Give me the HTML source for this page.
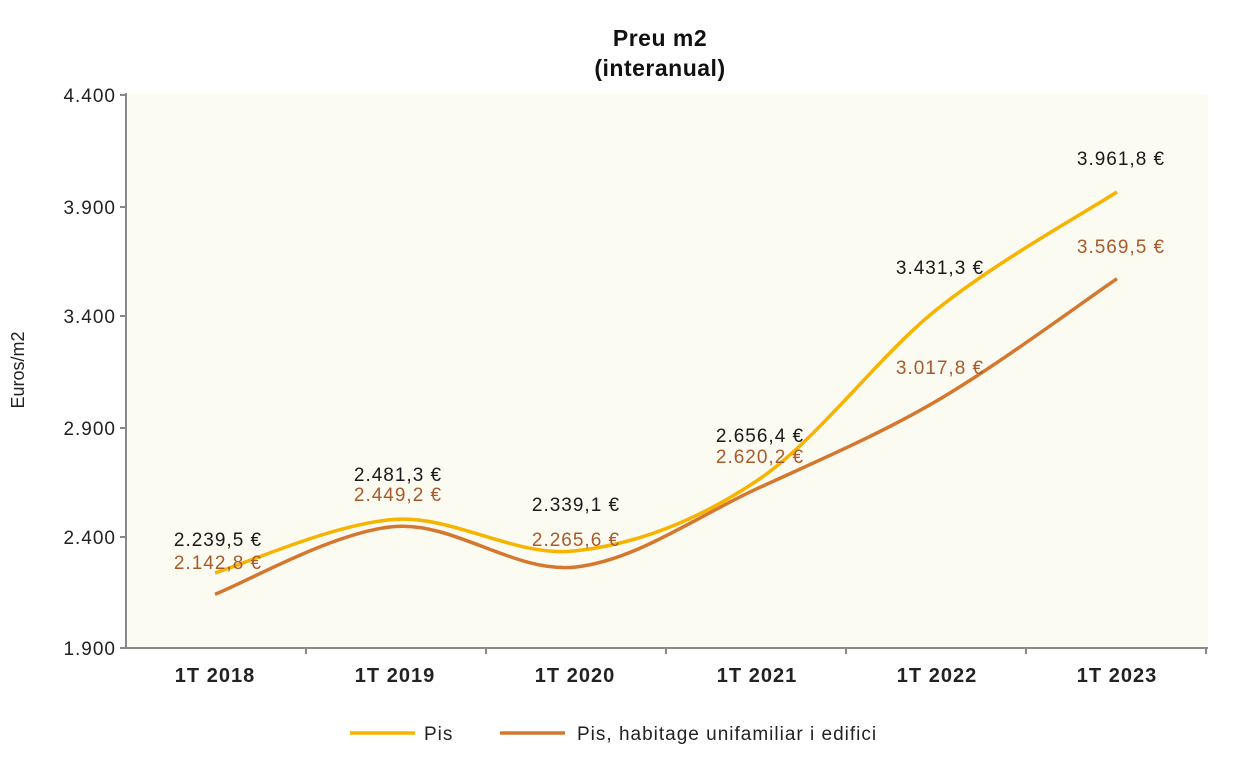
<!DOCTYPE html>
<html><head><meta charset="utf-8"><style>
html,body{margin:0;padding:0;background:#fff;}
svg{display:block;font-family:"Liberation Sans",Arial,sans-serif;}
</style></head><body>
<svg width="1240" height="765" viewBox="0 0 1240 765">
<rect x="128" y="94" width="1080" height="554" fill="#fcfbf1"/>
<text x="660" y="46" font-size="23" font-weight="bold" text-anchor="middle" fill="#111" letter-spacing="0.5">Preu m2</text>
<text x="660" y="76" font-size="23" font-weight="bold" text-anchor="middle" fill="#111" letter-spacing="0.5">(interanual)</text>
<g stroke="#888" stroke-width="2">
<line x1="126" y1="93" x2="126" y2="649"/>
<line x1="126" y1="648" x2="1208" y2="648"/>
<line x1="120" y1="95" x2="126" y2="95"/>
<line x1="120" y1="207" x2="126" y2="207"/>
<line x1="120" y1="316" x2="126" y2="316"/>
<line x1="120" y1="428" x2="126" y2="428"/>
<line x1="120" y1="537" x2="126" y2="537"/>
<line x1="120" y1="648" x2="126" y2="648"/>
<line x1="306" y1="648" x2="306" y2="654"/>
<line x1="486" y1="648" x2="486" y2="654"/>
<line x1="666" y1="648" x2="666" y2="654"/>
<line x1="846" y1="648" x2="846" y2="654"/>
<line x1="1026" y1="648" x2="1026" y2="654"/>
<line x1="1206" y1="648" x2="1206" y2="654"/>
</g>
<g font-size="19" fill="#222" text-anchor="end" letter-spacing="1">
<text x="116" y="102">4.400</text>
<text x="116" y="214">3.900</text>
<text x="116" y="323">3.400</text>
<text x="116" y="435">2.900</text>
<text x="116" y="544">2.400</text>
<text x="116" y="655">1.900</text>
</g>
<text transform="translate(24,370) rotate(-90)" font-size="18" text-anchor="middle" fill="#222">Euros/m2</text>
<g font-size="20" font-weight="bold" fill="#222" text-anchor="middle" letter-spacing="1">
<text x="215" y="682">1T 2018</text>
<text x="395" y="682">1T 2019</text>
<text x="575" y="682">1T 2020</text>
<text x="757" y="682">1T 2021</text>
<text x="937" y="682">1T 2022</text>
<text x="1117" y="682">1T 2023</text>
</g>
<path d="M215,594.3 C245,583 335,531 395,526.5 C455,522 514.7,573.4 575,567.1 C635.3,560.8 696.7,516.4 757,488.7 C817.3,461 877,435.7 937,400.7 C997,365.7 1087,299 1117,278.7" fill="none" stroke="#d4782f" stroke-width="3.5"/>
<path d="M215,572.9 C245,564 335,523.1 395,519.4 C455,515.7 514.7,557.4 575,550.9 C635.3,544.5 696.7,521 757,480.7 C817.3,440.4 877,357.4 937,309.3 C997,261.2 1087,211.5 1117,191.9" fill="none" stroke="#f6b400" stroke-width="3.5"/>
<g font-size="19" fill="#1a1a1a" text-anchor="middle" letter-spacing="1">
<text x="218" y="546">2.239,5 €</text>
<text x="398" y="481">2.481,3 €</text>
<text x="576" y="511">2.339,1 €</text>
<text x="760" y="442">2.656,4 €</text>
<text x="940" y="274">3.431,3 €</text>
<text x="1121" y="165">3.961,8 €</text>
</g>
<g font-size="19" fill="#a85a2a" text-anchor="middle" letter-spacing="1">
<text x="218" y="569">2.142,8 €</text>
<text x="398" y="501">2.449,2 €</text>
<text x="576" y="546">2.265,6 €</text>
<text x="760" y="463">2.620,2 €</text>
<text x="940" y="374">3.017,8 €</text>
<text x="1121" y="253">3.569,5 €</text>
</g>
<line x1="350" y1="733" x2="415" y2="733" stroke="#f6b400" stroke-width="3.5"/>
<text x="424" y="740" font-size="19" fill="#222" letter-spacing="1">Pis</text>
<line x1="500" y1="733" x2="565" y2="733" stroke="#d4782f" stroke-width="3.5"/>
<text x="577" y="740" font-size="19" fill="#222" letter-spacing="1">Pis, habitage unifamiliar i edifici</text>
</svg>
</body></html>
